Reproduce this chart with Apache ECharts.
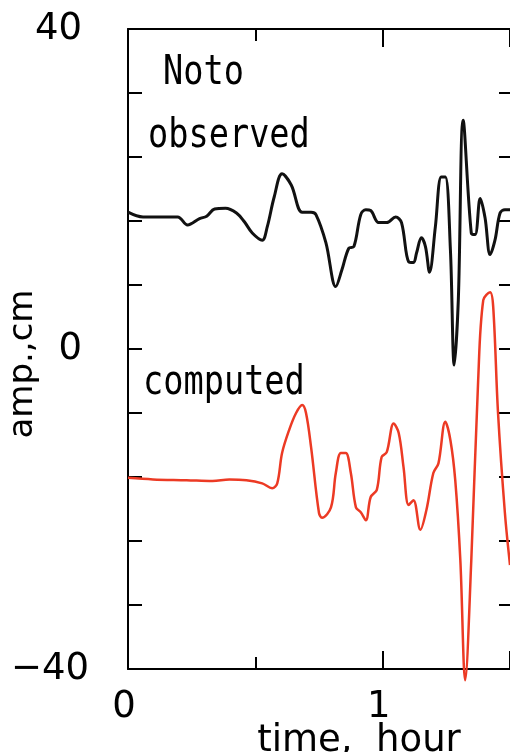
<!DOCTYPE html>
<html>
<head>
<meta charset="utf-8">
<script src="https://cdn.jsdelivr.net/npm/echarts@6/dist/echarts.min.js"></script>
<style>
  html, body { margin: 0; padding: 0; background: #fff; }
  #chart { width: 510px; height: 752px; }
</style>
</head>
<body>
<div id="chart"></div>
<script>
// tide gauge record, Noto (hours after origin, amplitude in cm)
var obsTime = [0, 0.059, 0.195, 0.234, 0.281, 0.309, 0.340, 0.383, 0.426, 0.457, 0.488, 0.527, 0.547, 0.574, 0.605, 0.641, 0.684, 0.719, 0.738, 0.777, 0.816, 0.840, 0.867, 0.887, 0.914, 0.934, 0.953, 0.984, 1.016, 1.051, 1.074, 1.102, 1.121, 1.133, 1.152, 1.168, 1.184, 1.207, 1.230, 1.246, 1.266, 1.281, 1.297, 1.316, 1.348, 1.363, 1.383, 1.402, 1.422, 1.441, 1.461, 1.480, 1.500];
var obsAmp = [17.1, 16.5, 16.5, 15.5, 16.3, 16.6, 17.5, 17.6, 17.0, 15.9, 14.5, 13.6, 15.3, 19.0, 21.9, 20.5, 17.1, 17.1, 16.8, 13.3, 7.8, 9.9, 12.6, 12.8, 16.8, 17.4, 17.3, 15.8, 15.8, 16.5, 15.8, 10.9, 10.8, 12.0, 13.9, 12.8, 9.6, 15.3, 21.5, 21.5, 12.4, -2.0, 6.1, 28.6, 14.5, 14.3, 18.8, 16.4, 11.8, 13.6, 17.0, 17.4, 17.4];

var compTime = [0, 0.098, 0.230, 0.332, 0.398, 0.465, 0.527, 0.566, 0.586, 0.605, 0.633, 0.660, 0.684, 0.699, 0.719, 0.750, 0.762, 0.797, 0.816, 0.836, 0.855, 0.875, 0.895, 0.914, 0.934, 0.953, 0.977, 0.996, 1.016, 1.043, 1.063, 1.082, 1.102, 1.121, 1.148, 1.172, 1.199, 1.219, 1.246, 1.266, 1.285, 1.305, 1.324, 1.348, 1.375, 1.395, 1.422, 1.434, 1.453, 1.480, 1.500];
var compAmp = [-16.1, -16.3, -16.4, -16.5, -16.3, -16.4, -16.8, -17.4, -16.8, -13.0, -10.1, -8.0, -7.0, -8.0, -12.3, -20.5, -21.1, -19.8, -15.5, -13.0, -13.0, -15.5, -19.8, -20.4, -21.4, -18.5, -17.6, -13.5, -12.9, -9.3, -10.5, -14.8, -19.5, -18.9, -22.6, -20.1, -15.5, -14.3, -9.1, -11.4, -16.4, -26.4, -41.4, -26.4, -3.9, 6.1, 7.1, 5.3, -8.0, -20.5, -27.0];

var yLabels = [0, 40];
var yLabelsNeg = [-40];
var xLabels = [0, 1];

var chart = echarts.init(document.getElementById("chart"));

function pairs(xs, ys) {
  return xs.map(function (x, i) { return [x, ys[i]]; });
}

var labelFont = "DejaVu Sans";
var monoFont = "DejaVu Sans Mono";

function xAxisDef(position, tickLen, interval, withLabels) {
  return {
    type: "value",
    position: position,
    min: 0,
    max: 1.5,
    interval: interval,
    axisLine: { show: withLabels, onZero: false, lineStyle: { color: "#000", width: 2 } },
    axisTick: { show: true, inside: true, length: tickLen, lineStyle: { color: "#000", width: 2 } },
    splitLine: { show: false },
    axisLabel: {
      show: withLabels && position === "bottom",
      margin: 20,
      fontFamily: labelFont,
      fontSize: 37,
      color: "#000",
      padding: [0, 8, 0, 0],
      showMaxLabel: false,
      formatter: function (v) {
        return xLabels.indexOf(v) >= 0 ? String(v) : "";
      },
    },
  };
}

function yLabelAxis(values, margin) {
  return {
    type: "value",
    position: "left",
    min: -40,
    max: 40,
    interval: 8,
    axisLine: { show: false },
    axisTick: { show: false },
    splitLine: { show: false },
    axisLabel: {
      margin: margin,
      fontFamily: labelFont,
      fontSize: 37,
      color: "#000",
      formatter: function (v) {
        if (values.indexOf(v) < 0) return "";
        return v < 0 ? "\u2212" + Math.abs(v) : String(v);
      },
    },
  };
}

var option = {
  animation: false,
  backgroundColor: "#fff",
  grid: { left: 128, right: 0, top: 29, bottom: 83, containLabel: false, outerBoundsMode: "none" },
  xAxis: [
    Object.assign(xAxisDef("bottom", 12, 0.5, true), {
      name: "time,  hour",
      nameLocation: "middle",
      nameGap: 47,
      nameMoveOverlap: false,
      nameTextStyle: { fontFamily: labelFont, fontSize: 37, color: "#000", padding: [7, 0, 0, 80] },
    }),
    xAxisDef("bottom", 18, 1, false),
    xAxisDef("top", 12, 0.5, true),
    xAxisDef("top", 18, 1, false),
  ],
  yAxis: [
    Object.assign(yLabelAxis(yLabels, 46), {
      name: "amp.,cm",
      nameLocation: "middle",
      nameGap: 88,
      nameMoveOverlap: false,
      nameTextStyle: { fontFamily: labelFont, fontSize: 34, color: "#000", padding: [0, 30, 0, 0] },
      axisLine: { show: true, onZero: false, lineStyle: { color: "#000", width: 2 } },
      axisTick: { show: true, inside: true, length: 14, lineStyle: { color: "#000", width: 2 } },
    }),
    {
      type: "value",
      position: "right",
      min: -40,
      max: 40,
      interval: 8,
      axisLine: { show: true, onZero: false, lineStyle: { color: "#999", width: 1 } },
      axisTick: { show: true, inside: true, length: 11, lineStyle: { color: "#000", width: 2 } },
      splitLine: { show: false },
      axisLabel: { show: false },
    },
    yLabelAxis(yLabelsNeg, 39),
  ],
  graphic: [
    { type: "text", x: 163, y: 74, scaleX: 0.84, style: { text: "Noto", font: "40px " + monoFont, fill: "#000", verticalAlign: "middle" } },
    { type: "text", x: 148, y: 137, scaleX: 0.84, style: { text: "observed", font: "40px " + monoFont, fill: "#000", verticalAlign: "middle" } },
    { type: "text", x: 143, y: 384, scaleX: 0.84, style: { text: "computed", font: "40px " + monoFont, fill: "#000", verticalAlign: "middle" } },
  ],
  series: [
    {
      name: "observed",
      type: "line",
      xAxisIndex: 0,
      yAxisIndex: 0,
      data: pairs(obsTime, obsAmp),
      showSymbol: false,
      smooth: 0.35,
      clip: false,
      lineStyle: { color: "#111", width: 3 },
    },
    {
      name: "computed",
      type: "line",
      xAxisIndex: 0,
      yAxisIndex: 0,
      data: pairs(compTime, compAmp),
      showSymbol: false,
      smooth: 0.35,
      clip: false,
      lineStyle: { color: "#ec3a24", width: 2.5 },
    },
  ],
};

chart.setOption(option);
</script>
</body>
</html>
